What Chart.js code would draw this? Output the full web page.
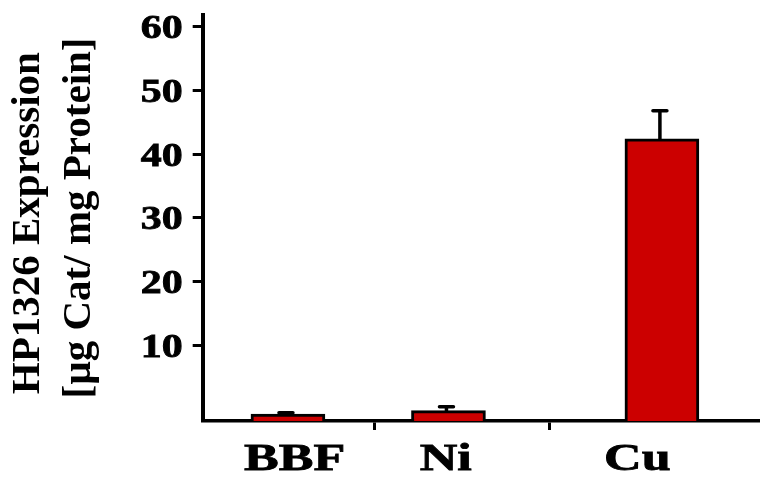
<!DOCTYPE html>
<html>
<head>
<meta charset="utf-8">
<script src="https://cdn.jsdelivr.net/npm/chart.js@4.4.1/dist/chart.umd.min.js"></script>
<style>
  html, body { margin: 0; padding: 0; background: #fff; }
  #wrap { width: 760px; height: 484px; position: relative; }
</style>
</head>
<body>
<div id="wrap"><canvas id="chart"></canvas></div>
<script>
// values (y in tick units)
const categories = ["BBF", "Ni", "Cu"];
const expression = [-0.76, -0.23, 42.4];
const errorUp = [0.22, 0.63, 4.4];
const yTicks = [10, 20, 30, 40, 50, 60];
const yTitle = ["HP1326 Expression ", "[µg Cat/ mg Protein]"];

// layout along the x axis (0..10)
const barPos = [1.53, 4.41, 8.24];
const labelPos = [1.65, 4.36, 7.8];
const tickPos = [3.08, 6.22];

const Y_MIN = -1.85;
const Y_MAX = 61.83;
const serif = '"Liberation Serif", "Times New Roman", serif';

const errorBars = {
    id: "errorBars",
    afterDatasetsDraw(chart) {
        const ctx = chart.ctx;
        const x = chart.scales.x, y = chart.scales.y;
        ctx.save();
        ctx.strokeStyle = "#000";
        ctx.lineWidth = 3.5;
        ctx.lineCap = "round";
        expression.forEach((v, i) => {
            const px = x.getPixelForValue(barPos[i]) - 2;
            const y0 = y.getPixelForValue(v);
            const y1 = y.getPixelForValue(v + errorUp[i]);
            ctx.beginPath();
            ctx.moveTo(px, y0);
            ctx.lineTo(px, y1);
            ctx.moveTo(px - 7, y1);
            ctx.lineTo(px + 7, y1);
            ctx.stroke();
        });
        ctx.restore();
    }
};

// the horizontal text in the source is drawn wide, so stretch it
function wideText(ctx, txt, px, py, sx) {
    ctx.save();
    ctx.translate(px, py);
    ctx.scale(sx, 1);
    ctx.fillText(txt, 0, 0);
    ctx.strokeText(txt, 0, 0);
    ctx.restore();
}

const wideLabels = {
    id: "wideLabels",
    afterDraw(chart) {
        const ctx = chart.ctx;
        const x = chart.scales.x, y = chart.scales.y;
        ctx.save();
        ctx.fillStyle = "#000";
        ctx.strokeStyle = "#000";
        ctx.lineWidth = 0.8;
        ctx.font = "bold 33px " + serif;
        ctx.textAlign = "right";
        ctx.textBaseline = "middle";
        yTicks.forEach(t => wideText(ctx, String(t), x.left - 20, y.getPixelForValue(t) + 3, 1.27));
        ctx.font = "bold 38px " + serif;
        ctx.textAlign = "center";
        ctx.textBaseline = "alphabetic";
        categories.forEach((c, i) => wideText(ctx, c, x.getPixelForValue(labelPos[i]), y.bottom + 49, 1.37));
        ctx.restore();
    }
};

new Chart(document.getElementById("chart"), {
    type: "bar",
    data: {
        datasets: [{
            data: expression.map((v, i) => ({ x: barPos[i], y: v })),
            base: Y_MIN,
            backgroundColor: "#cc0000",
            borderColor: "#000",
            borderWidth: 3,
            barThickness: 74
        }]
    },
    options: {
        responsive: true,
        maintainAspectRatio: false,
        animation: false,
        layout: { padding: { left: 0, top: 15, right: 0, bottom: 54 } },
        plugins: { legend: { display: false }, tooltip: { enabled: false } },
        scales: {
            x: {
                type: "linear",
                min: 0,
                max: 10,
                offset: false,
                afterBuildTicks: s => { s.ticks = tickPos.map(v => ({ value: v })); },
                ticks: { display: false },
                grid: { offset: false, drawOnChartArea: false, drawTicks: true, tickLength: 9, tickWidth: 3, tickColor: "#000" },
                border: { color: "#000", width: 3.5 }
            },
            y: {
                min: Y_MIN,
                max: Y_MAX,
                afterBuildTicks: s => { s.ticks = yTicks.map(v => ({ value: v })); },
                ticks: { display: false },
                grid: { drawOnChartArea: false, drawTicks: true, tickLength: 10, tickWidth: 3, tickColor: "#000" },
                border: { color: "#000", width: 4 },
                title: {
                    display: true,
                    text: yTitle,
                    color: "#000",
                    font: { family: serif, size: 41, weight: "bold", lineHeight: 1.24 },
                    padding: { top: 3, bottom: 88 }
                }
            }
        }
    },
    plugins: [errorBars, wideLabels]
});
</script>
</body>
</html>
